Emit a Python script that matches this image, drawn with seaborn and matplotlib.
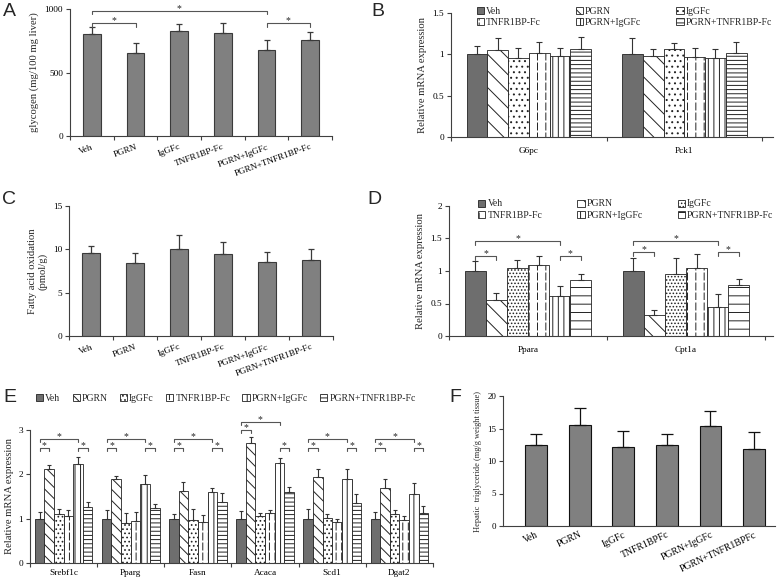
import numpy as np
import pandas as pd
import matplotlib
matplotlib.use("Agg")
import matplotlib.pyplot as plt
import matplotlib.hatch as mhatch
from matplotlib.path import Path
from matplotlib.patches import Patch
from matplotlib.container import BarContainer
import seaborn as sns

# ---- data ----
groups = ["Veh", "PGRN", "IgGFc", "TNFR1BP-Fc", "PGRN+IgGFc", "PGRN+TNFR1BP-Fc"]
f_groups = ["Veh", "PGRN", "IgGFc", "TNFR1BPFc", "PGRN+IgGFc", "PGRN+TNFR1BPFc"]

glycogen = [803, 651, 824, 814, 675, 753]
glycogen_err = [53, 78, 60, 76, 83, 69]

b_genes = ["G6pc", "Pck1"]
g6pc = [1.0, 1.05, 0.96, 1.02, 0.98, 1.06]
g6pc_err = [0.10, 0.15, 0.12, 0.13, 0.10, 0.15]
pck1 = [1.0, 0.98, 1.06, 0.97, 0.95, 1.02]
pck1_err = [0.20, 0.09, 0.08, 0.11, 0.12, 0.13]

fao = [9.6, 8.4, 10.0, 9.5, 8.55, 8.75]
fao_err = [0.8, 1.2, 1.6, 1.3, 1.1, 1.3]

d_genes = ["Ppara", "Cpt1a"]
ppara = [1.0, 0.56, 1.05, 1.10, 0.62, 0.86]
ppara_err = [0.15, 0.10, 0.12, 0.13, 0.15, 0.10]
cpt1a = [1.0, 0.32, 0.96, 1.05, 0.45, 0.79]
cpt1a_err = [0.20, 0.08, 0.24, 0.21, 0.20, 0.09]

e_genes = ["Srebf1c", "Pparg", "Fasn", "Acaca", "Scd1", "Dgat2"]
srebf1c = [1.0, 2.12, 1.10, 1.06, 2.24, 1.27]
srebf1c_err = [0.15, 0.10, 0.12, 0.13, 0.15, 0.10]
pparg = [1.0, 1.90, 0.90, 0.95, 1.78, 1.24]
pparg_err = [0.20, 0.07, 0.22, 0.21, 0.20, 0.08]
fasn = [1.0, 1.62, 0.96, 0.93, 1.60, 1.37]
fasn_err = [0.10, 0.21, 0.25, 0.15, 0.09, 0.20]
acaca = [1.0, 2.70, 1.07, 1.12, 2.25, 1.60]
acaca_err = [0.18, 0.14, 0.05, 0.08, 0.11, 0.12]
scd1 = [1.0, 1.95, 1.02, 0.92, 1.89, 1.35]
scd1_err = [0.22, 0.17, 0.08, 0.08, 0.23, 0.21]
dgat2 = [1.0, 1.69, 1.11, 0.97, 1.56, 1.13]
dgat2_err = [0.15, 0.20, 0.09, 0.10, 0.25, 0.16]

tg = [12.4, 15.5, 12.1, 12.4, 15.4, 11.9]
tg_err = [1.8, 2.7, 2.45, 1.8, 2.35, 2.6]


# dashed vertical hatch, takes the place of the '*' pattern
class DashedVertical(mhatch.HatchPatternBase):
    def __init__(self, hatch, density):
        self.num_lines = int(hatch.count('*') * density)
        self.num_dashes = 10
        self.num_vertices = self.num_lines * self.num_dashes * 2

    def set_vertices_and_codes(self, vertices, codes):
        xs = (np.arange(self.num_lines) + 0.5) / self.num_lines
        ys = np.arange(self.num_dashes) / self.num_dashes
        xx, yy = np.meshgrid(xs, ys, indexing='ij')
        xx = xx.ravel()
        yy = yy.ravel()
        vertices[0::2, 0] = xx
        vertices[0::2, 1] = yy
        vertices[1::2, 0] = xx
        vertices[1::2, 1] = yy + 0.7 / self.num_dashes
        codes[0::2] = Path.MOVETO
        codes[1::2] = Path.LINETO


mhatch._hatch_types = [t for t in mhatch._hatch_types if t is not mhatch.Stars] + [DashedVertical]

sns.set_style("ticks")
plt.rcParams['font.family'] = ['Liberation Serif', 'DejaVu Serif']
plt.rcParams['hatch.linewidth'] = 0.7
plt.rcParams['axes.linewidth'] = 0.8
plt.rcParams['axes.edgecolor'] = '#404040'
plt.rcParams['xtick.color'] = '#404040'
plt.rcParams['ytick.color'] = '#404040'
plt.rcParams['xtick.labelcolor'] = 'black'
plt.rcParams['ytick.labelcolor'] = 'black'

fills = {g: ('#6e6e6e' if g == 'Veh' else 'white') for g in groups}
W, H = 777, 581


def place(left, top, right, bottom):
    return fig.add_axes([left / W, 1 - bottom / H, (right - left) / W, (bottom - top) / H])


def bar_sets(ax):
    return [c for c in ax.containers if isinstance(c, BarContainer)]


def excel_axes(ax, n, xmax=None, pad=3):
    sns.despine(ax=ax)
    ax.tick_params(axis='x', which='major', length=0, labelsize=6.7, pad=pad)
    ax.set_xticks(np.arange(-0.5, n, 1.0), minor=True)
    ax.tick_params(axis='x', which='minor', length=3, width=0.8)
    ax.tick_params(axis='y', length=3, width=0.8, labelsize=6.7, pad=2)
    ax.set_xlim(-0.5, xmax if xmax is not None else n - 0.5)
    ax.set_xlabel('')


def single_panel(ax, labels, vals, errs, width, color, edge, capsize):
    sns.barplot(x=labels, y=vals, color=color, width=width, edgecolor=edge,
                linewidth=0.8, saturation=1, errorbar=None, ax=ax)
    bars = bar_sets(ax)[0]
    xs = [b.get_x() + b.get_width() / 2 for b in bars]
    ax.errorbar(xs, vals, yerr=[np.zeros(len(errs)), errs], fmt='none',
                ecolor=edge, elinewidth=0.9, capsize=capsize, capthick=0.9)


def grouped_panel(ax, genes, table, errs, hatches, width, capsize):
    table = np.array(table)
    errs = np.array(errs)
    df = pd.DataFrame({'gene': np.repeat(genes, len(groups)),
                       'group': groups * len(genes),
                       'value': table.ravel()})
    sns.barplot(data=df, x='gene', y='value', hue='group', order=genes,
                hue_order=groups, palette=fills, width=width, edgecolor='#222222',
                linewidth=0.6, saturation=1, errorbar=None, legend=False, ax=ax)
    for i, cont in enumerate(bar_sets(ax)):
        xs = []
        for bar in cont:
            bar.set_hatch(hatches[i])
            xs.append(bar.get_x() + bar.get_width() / 2)
        ax.errorbar(xs, table[:, i], yerr=[np.zeros(len(genes)), errs[:, i]],
                    fmt='none', ecolor='#333333', elinewidth=0.8,
                    capsize=capsize, capthick=0.8)
    ax.set_ylabel('')


def center(ax, gene_i, group_i):
    b = bar_sets(ax)[group_i][gene_i]
    return b.get_x() + b.get_width() / 2


def bracket(ax, x1, x2, y, leg):
    ax.plot([x1, x1, x2, x2], [y - leg, y, y, y - leg], color='#555555', lw=0.8,
            clip_on=False)
    ax.annotate('*', xy=((x1 + x2) / 2, y), xytext=(0, -1.5), textcoords='offset points',
                ha='center', va='bottom', fontsize=7, annotation_clip=False)


def legend(ax, hatches, ncol, order, anchor, colspace):
    handles = [Patch(facecolor=fills[g], edgecolor='#222222', hatch=h, linewidth=0.6, label=g)
               for g, h in zip(groups, hatches)]
    handles = [handles[i] for i in order]
    ax.legend(handles=handles, ncol=ncol, loc='upper left', bbox_to_anchor=anchor,
              frameon=False, fontsize=7, handlelength=0.75, handleheight=0.75,
              handletextpad=0.2, columnspacing=colspace, labelspacing=0.25,
              borderpad=0, borderaxespad=0)


fig = plt.figure(figsize=(W / 100, H / 100), dpi=100)

# ---- A ----
axA = place(70, 9, 332, 136)
single_panel(axA, groups, glycogen, glycogen_err, 0.4, '#808080', '#3a3a3a', 2.2)
excel_axes(axA, 6, pad=5)
axA.set_ylim(0, 1000)
axA.set_yticks([0, 500, 1000])
axA.set_ylabel('glycogen (mg/100 mg liver)', fontsize=7.7)
plt.setp(axA.get_xticklabels(), rotation=20, ha='right', rotation_mode='anchor')
bracket(axA, center(axA, 0, 0), center(axA, 1, 0), 892, 30)
bracket(axA, center(axA, 0, 0), center(axA, 4, 0), 987, 30)
bracket(axA, center(axA, 4, 0), center(axA, 5, 0), 887, 30)

# ---- B ----
hatch_b = ['', '\\\\', '...', '**', '|||', '----']
axB = place(451, 13, 773, 137)
grouped_panel(axB, b_genes, [g6pc, pck1], [g6pc_err, pck1_err], hatch_b, 0.8, 2.2)
excel_axes(axB, 2, 1.57, pad=7)
axB.set_ylim(0, 1.5)
axB.set_yticks([0, 0.5, 1, 1.5], ['0', '0.5', '1', '1.5'])
axB.set_ylabel('Relative mRNA expression', fontsize=7.7)
legend(axB, hatch_b, 3, [0, 3, 1, 4, 2, 5], (0.08, 1.05), 3.6)

# ---- C ----
axC = place(69, 206, 333, 336)
single_panel(axC, groups, fao, fao_err, 0.4, '#808080', '#3a3a3a', 2.2)
excel_axes(axC, 6, pad=5)
axC.set_ylim(0, 15)
axC.set_yticks([0, 5, 10, 15])
axC.set_ylabel('Fatty acid oxidation\n(pmol/g)', fontsize=7.7, linespacing=1.1)
plt.setp(axC.get_xticklabels(), rotation=20, ha='right', rotation_mode='anchor')

# ---- D ----
hatch_d = ['', '\\\\', '.....', '**', '|||', '--']
axD = place(449, 206, 773, 336)
grouped_panel(axD, d_genes, [ppara, cpt1a], [ppara_err, cpt1a_err], hatch_d, 0.8, 2.2)
excel_axes(axD, 2, 1.55, pad=7)
axD.set_ylim(0, 2)
axD.set_yticks([0, 0.5, 1, 1.5, 2], ['0', '0.5', '1', '1.5', '2'])
axD.set_ylabel('Relative mRNA expression', fontsize=7.7)
legend(axD, hatch_d, 3, [0, 3, 1, 4, 2, 5], (0.09, 1.05), 3.6)
for gi, (short_y, long_y) in enumerate([(1.23, 1.46), (1.29, 1.46)]):
    bracket(axD, center(axD, gi, 0), center(axD, gi, 1), short_y, 0.06)
    bracket(axD, center(axD, gi, 0), center(axD, gi, 4), long_y, 0.06)
    bracket(axD, center(axD, gi, 4), center(axD, gi, 5), short_y, 0.06)

# ---- E ----
hatch_e = ['', '\\\\\\', '....', '***', '|||', '----']
axE = place(30, 430, 433, 563)
grouped_panel(axE, e_genes, [srebf1c, pparg, fasn, acaca, scd1, dgat2],
              [srebf1c_err, pparg_err, fasn_err, acaca_err, scd1_err, dgat2_err],
              hatch_e, 0.86, 1.5)
excel_axes(axE, 6, 5.5, pad=4)
axE.set_ylim(0, 3)
axE.set_yticks([0, 1, 2, 3])
axE.set_ylabel('Relative mRNA expression', fontsize=7.7, labelpad=3)
legend(axE, hatch_e, 6, range(6), (0.015, 1.27), 1.25)
for gi in range(6):
    if e_genes[gi] == 'Acaca':
        lo, hi, r = 3.0, 3.17, 2.59
    else:
        lo, hi, r = 2.59, 2.8, 2.59
    bracket(axE, center(axE, gi, 0), center(axE, gi, 1), lo, 0.06)
    bracket(axE, center(axE, gi, 0), center(axE, gi, 4), hi, 0.06)
    bracket(axE, center(axE, gi, 4), center(axE, gi, 5), r, 0.06)

# ---- F ----
axF = place(503, 396, 775, 526)
single_panel(axF, f_groups, tg, tg_err, 0.5, '#808080', '#111111', 4)
sns.despine(ax=axF)
axF.set_xlim(-0.76, 5.48)
axF.set_ylim(0, 20)
axF.set_yticks([0, 5, 10, 15, 20])
axF.tick_params(axis='x', length=0, labelsize=7, pad=3)
axF.tick_params(axis='y', length=3, width=0.8, labelsize=6.5, pad=2)
axF.set_ylabel('Hepatic  triglyceride (mg/g weight tissue)', fontsize=6)
plt.setp(axF.get_xticklabels(), rotation=25, ha='right', rotation_mode='anchor')

# ---- panel letters ----
for letter, x, y in [('A', 3, 3), ('B', 371, 3), ('C', 2, 191), ('D', 367, 191),
                     ('E', 3, 389), ('F', 449, 389)]:
    fig.text(x / W, 1 - y / H, letter, fontsize=14, family='Liberation Sans',
             ha='left', va='top')

fig.savefig('out.png', dpi=100)
